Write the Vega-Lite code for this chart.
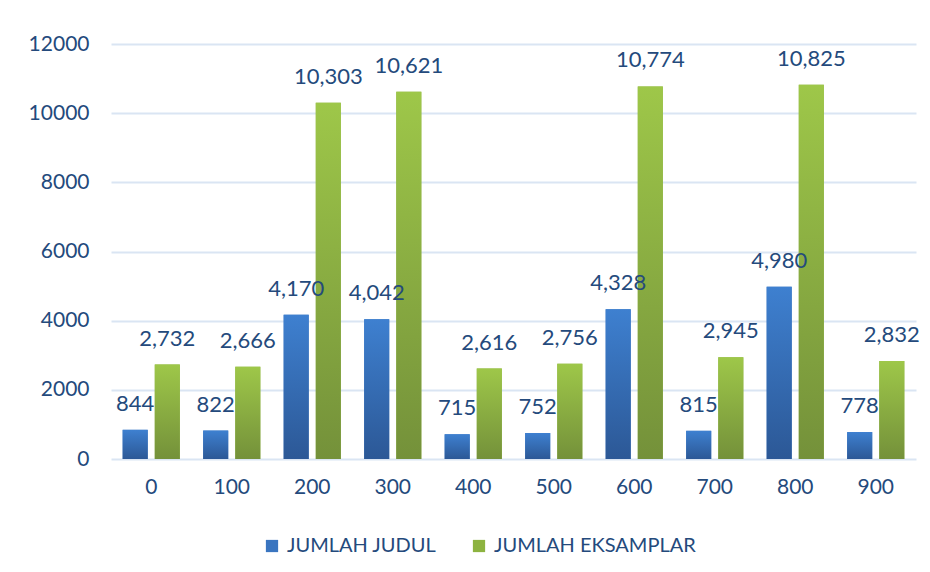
{
  "$schema": "https://vega.github.io/schema/vega-lite/v6.json",
  "width": 805,
  "height": 415,
  "autosize": "none",
  "padding": {"left": 111, "top": 44, "right": 14, "bottom": 113},
  "background": "white",
  "config": {"font": "Lato", "view": {"stroke": null}},
  "data": {
    "values": [
      {"kelas": "0", "seri": "JUMLAH JUDUL", "nilai": 844},
      {"kelas": "0", "seri": "JUMLAH EKSAMPLAR", "nilai": 2732},
      {"kelas": "100", "seri": "JUMLAH JUDUL", "nilai": 822},
      {"kelas": "100", "seri": "JUMLAH EKSAMPLAR", "nilai": 2666},
      {"kelas": "200", "seri": "JUMLAH JUDUL", "nilai": 4170},
      {"kelas": "200", "seri": "JUMLAH EKSAMPLAR", "nilai": 10303},
      {"kelas": "300", "seri": "JUMLAH JUDUL", "nilai": 4042},
      {"kelas": "300", "seri": "JUMLAH EKSAMPLAR", "nilai": 10621},
      {"kelas": "400", "seri": "JUMLAH JUDUL", "nilai": 715},
      {"kelas": "400", "seri": "JUMLAH EKSAMPLAR", "nilai": 2616},
      {"kelas": "500", "seri": "JUMLAH JUDUL", "nilai": 752},
      {"kelas": "500", "seri": "JUMLAH EKSAMPLAR", "nilai": 2756},
      {"kelas": "600", "seri": "JUMLAH JUDUL", "nilai": 4328},
      {"kelas": "600", "seri": "JUMLAH EKSAMPLAR", "nilai": 10774},
      {"kelas": "700", "seri": "JUMLAH JUDUL", "nilai": 815},
      {"kelas": "700", "seri": "JUMLAH EKSAMPLAR", "nilai": 2945},
      {"kelas": "800", "seri": "JUMLAH JUDUL", "nilai": 4980},
      {"kelas": "800", "seri": "JUMLAH EKSAMPLAR", "nilai": 10825},
      {"kelas": "900", "seri": "JUMLAH JUDUL", "nilai": 778},
      {"kelas": "900", "seri": "JUMLAH EKSAMPLAR", "nilai": 2832}
    ]
  },
  "encoding": {
    "x": {
      "field": "kelas", "type": "nominal", "sort": null,
      "scale": {"paddingInner": 0.29, "paddingOuter": 0.145},
      "axis": {"title": null, "labelAngle": 0, "domain": false, "ticks": false, "grid": false,
               "labelPadding": 17, "labelFontSize": 21, "labelColor": "#244a7c"}
    },
    "xOffset": {
      "field": "seri", "type": "nominal",
      "sort": ["JUMLAH JUDUL", "JUMLAH EKSAMPLAR"],
      "scale": {"paddingInner": 0.22}
    },
    "y": {
      "field": "nilai", "type": "quantitative",
      "scale": {"domain": [0, 12000]},
      "axis": {"title": null, "values": [0, 2000, 4000, 6000, 8000, 10000, 12000], "format": "d",
               "domain": false, "ticks": false, "gridColor": "#dae5f3", "gridWidth": 2,
               "labelPadding": 22, "labelFontSize": 21, "labelColor": "#244a7c"}
    }
  },
  "layer": [
    {
      "mark": {"type": "bar"},
      "encoding": {
        "color": {
          "field": "seri", "type": "nominal",
          "scale": {"domain": ["JUMLAH JUDUL", "JUMLAH EKSAMPLAR"], "range": ["#3a75c0", "#8db340"]},
          "legend": {"title": null, "orient": "none", "legendX": 151, "legendY": 492, "direction": "horizontal",
                     "symbolType": "square", "symbolSize": 150, "symbolStrokeWidth": 0,
                     "labelFontSize": 20, "labelColor": "#244a7c", "labelLimit": 0, "labelOffset": 5,
                     "columnPadding": 32}
        }
      }
    },
    {
      "transform": [{"filter": "datum.seri === 'JUMLAH JUDUL'"}],
      "mark": {"type": "bar", "fill": {"gradient": "linear", "x1": 0, "y1": 0, "x2": 0, "y2": 1,
               "stops": [{"offset": 0, "color": "#3e80d0"}, {"offset": 1, "color": "#2c5896"}]}},
      "encoding": {}
    },
    {
      "transform": [{"filter": "datum.seri === 'JUMLAH EKSAMPLAR'"}],
      "mark": {"type": "bar", "fill": {"gradient": "linear", "x1": 0, "y1": 0, "x2": 0, "y2": 1,
               "stops": [{"offset": 0, "color": "#9ec749"}, {"offset": 1, "color": "#74913a"}]}},
      "encoding": {}
    },
    {
      "mark": {"type": "text", "baseline": "bottom", "dy": -14, "fontSize": 22, "color": "#244a7c"},
      "encoding": {"text": {"field": "nilai", "type": "quantitative", "format": ","}}
    }
  ]
}
